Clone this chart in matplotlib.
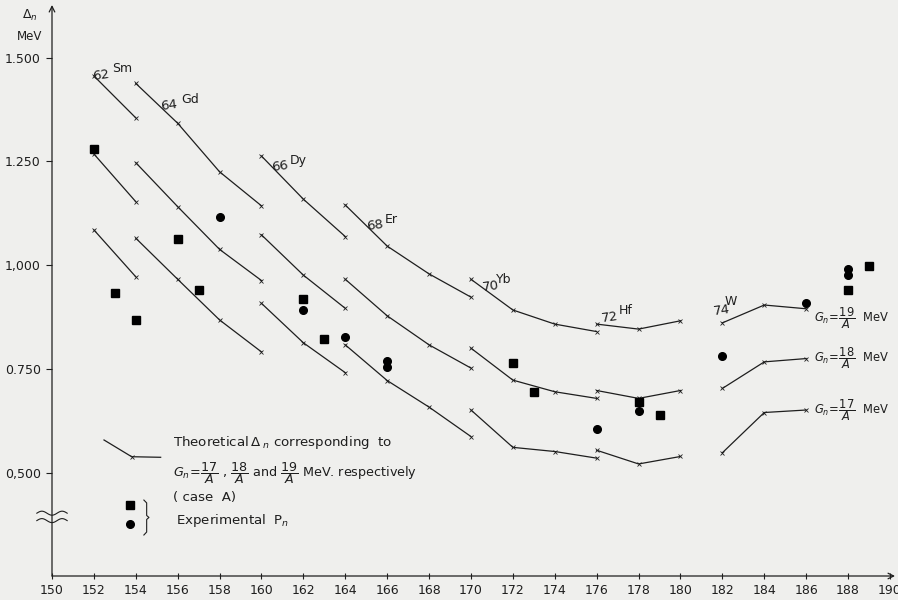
import numpy as np
import matplotlib
matplotlib.use("Agg")
import matplotlib.pyplot as plt

# ── DATA ─────────────────────────────────────────────────────────────────────
# theoretical Delta_n (MeV) for G_n = 17/A, 18/A, 19/A, one block per element
SM_A = [152, 154]
SM_G17 = [1.085, 0.972]
SM_G18 = [1.268, 1.153]
SM_G19 = [1.456, 1.355]

GD_A = [154, 156, 158, 160]
GD_G17 = [1.065, 0.966, 0.868, 0.791]
GD_G18 = [1.247, 1.141, 1.038, 0.963]
GD_G19 = [1.438, 1.342, 1.225, 1.143]

DY_A = [160, 162, 164]
DY_G17 = [0.908, 0.813, 0.741]
DY_G18 = [1.073, 0.976, 0.896]
DY_G19 = [1.263, 1.159, 1.069]

ER_A = [164, 166, 168, 170]
ER_G17 = [0.808, 0.722, 0.658, 0.587]
ER_G18 = [0.966, 0.878, 0.808, 0.752]
ER_G19 = [1.145, 1.046, 0.979, 0.923]

YB_A = [170, 172, 174, 176]
YB_G17 = [0.651, 0.561, 0.551, 0.535]
YB_G18 = [0.800, 0.723, 0.695, 0.679]
YB_G19 = [0.966, 0.892, 0.858, 0.840]

HF_A = [176, 178, 180]
HF_G17 = [0.554, 0.521, 0.539]
HF_G18 = [0.698, 0.679, 0.698]
HF_G19 = [0.858, 0.846, 0.866]

W_A = [182, 184, 186]
W_G17 = [0.548, 0.645, 0.651]
W_G18 = [0.703, 0.767, 0.775]
W_G19 = [0.861, 0.904, 0.895]

# experimental P_n
EXP_SQ_A = [152, 153, 154, 156, 157, 162, 163, 172, 173, 178, 179, 188, 189]
EXP_SQ = [1.280, 0.934, 0.868, 1.062, 0.940, 0.918, 0.821, 0.764, 0.695,
          0.670, 0.639, 0.940, 0.999]
EXP_CI_A = [158, 162, 164, 166, 166, 176, 178, 182, 186, 188, 188]
EXP_CI = [1.115, 0.891, 0.827, 0.769, 0.754, 0.605, 0.649, 0.781, 0.910,
          0.990, 0.976]

Y_TICKS = [0.5, 0.75, 1.0, 1.25, 1.5]
Y_TICK_LABELS = ["0,500", "0.750", "1,000", "1.250", "1.500"]
X_TICKS = list(range(150, 191, 2))

ELEMENTS = ["62", "64", "66", "68", "70", "72", "74"]
SYMBOLS = ["Sm", "Gd", "Dy", "Er", "Yb", "Hf", "W"]
G_LABELS = ["19", "18", "17"]

# ── STYLE ────────────────────────────────────────────────────────────────────
BG = "#efefed"
INK = "#1e1e1e"

plt.rcParams.update({
    "font.family": ["DejaVu Sans"],
    "mathtext.fontset": "dejavusans",
    "text.color": INK,
})

fig = plt.figure(figsize=(8.98, 6.0), dpi=100, facecolor=BG)
ax = fig.add_axes([52 / 898, 24 / 600, 843 / 898, 571 / 600])
ax.set_facecolor(BG)
ax.set_xlim(150, 190.24)
ax.set_ylim(0.251, 1.627)

for s in ["top", "right", "left", "bottom"]:
    ax.spines[s].set_visible(False)

# axes drawn as arrows
arrow = dict(arrowstyle="->", lw=0.9, color=INK, shrinkA=0, shrinkB=0)
ax.annotate("", xy=(0, 1), xytext=(0, 0), xycoords="axes fraction",
            arrowprops=arrow)
ax.annotate("", xy=(1, 0), xytext=(0, 0), xycoords="axes fraction",
            arrowprops=arrow)

ax.set_xticks(X_TICKS)
ax.set_xticklabels([str(v) for v in X_TICKS], fontsize=9)
ax.set_yticks(Y_TICKS)
ax.set_yticklabels(Y_TICK_LABELS, fontsize=9)
ax.tick_params(axis="x", direction="inout", length=5, width=0.8, pad=3,
               colors=INK)
ax.tick_params(axis="y", direction="out", length=4, width=0.8, pad=4,
               colors=INK)

# y-axis unit label
ax.text(-0.017, 0.982, r"$\Delta_n$", transform=ax.transAxes, ha="right",
        va="center", fontsize=9)
ax.text(-0.012, 0.944, "MeV", transform=ax.transAxes, ha="right",
        va="center", fontsize=8.5)

# axis break
t = np.linspace(-0.018, 0.018, 60)
for yb in (0.110, 0.097):
    ax.plot(t, yb + 0.0035 * np.sin((t + 0.018) / 0.036 * 3 * np.pi),
            transform=ax.transAxes, color=INK, lw=0.8, clip_on=False)

# ── THEORETICAL CURVES ───────────────────────────────────────────────────────
groups = [
    (SM_A, SM_G17, SM_G18, SM_G19),
    (GD_A, GD_G17, GD_G18, GD_G19),
    (DY_A, DY_G17, DY_G18, DY_G19),
    (ER_A, ER_G17, ER_G18, ER_G19),
    (YB_A, YB_G17, YB_G18, YB_G19),
    (HF_A, HF_G17, HF_G18, HF_G19),
    (W_A, W_G17, W_G18, W_G19),
]
for a, g17, g18, g19 in groups:
    for g in (g17, g18, g19):
        ax.plot(a, g, color=INK, lw=0.9, marker="x", ms=2.5, mew=0.6)

# element labels (number, then raised symbol)
num_pos = [(152.34, 1.458), (155.58, 1.384), (160.88, 1.238), (165.42, 1.097),
           (170.95, 0.948), (176.63, 0.874), (181.97, 0.892)]
sym_pos = [(153.33, 1.475), (156.59, 1.400), (161.74, 1.252), (166.17, 1.109),
           (171.58, 0.966), (177.40, 0.890), (182.41, 0.912)]
for n, s, (xn, yn), (xs, ys) in zip(ELEMENTS, SYMBOLS, num_pos, sym_pos):
    ax.text(xn, yn, n, ha="center", va="center", fontsize=9.5, rotation=8)
    ax.text(xs, ys, s, ha="center", va="center", fontsize=9)

# G_n labels on the right
for num, yv in zip(G_LABELS, [0.873, 0.776, 0.651]):
    ax.text(186.35, yv, r"$G_n\!=\!\dfrac{%s}{A}$  MeV" % num, ha="left",
            va="center", fontsize=8.3)

# ── EXPERIMENTAL POINTS ──────────────────────────────────────────────────────
ax.plot(EXP_SQ_A, EXP_SQ, ls="none", marker="s", ms=5.5, color="black")
ax.plot(EXP_CI_A, EXP_CI, ls="none", marker="o", ms=5.5, color="black")

# ── KEY ──────────────────────────────────────────────────────────────────────
ax.plot([0.0617, 0.0945, 0.1289], [0.2382, 0.2089, 0.2079],
        transform=ax.transAxes, color=INK, lw=0.9, marker="x", ms=2.5,
        mew=0.6, markevery=[1])
KEY_FS = 9.6
ax.text(0.1439, 0.234, r"Theoretical$\,\Delta_{\ n}$ corresponding  to",
        transform=ax.transAxes, ha="left", va="center", fontsize=KEY_FS)
ax.text(0.1439, 0.180,
        r"$G_n\!=\!\dfrac{17}{A}$ , $\dfrac{18}{A}$ and $\dfrac{19}{A}$ MeV. respectively",
        transform=ax.transAxes, ha="left", va="center", fontsize=9.2)
ax.text(0.1439, 0.137, "( case  A)", transform=ax.transAxes, ha="left",
        va="center", fontsize=KEY_FS)
ax.text(0.1475, 0.098, r"Experimental  P$_n$", transform=ax.transAxes,
        ha="left", va="center", fontsize=KEY_FS)
ax.plot([0.0925], [0.1243], transform=ax.transAxes, marker="s", ms=5.5,
        color="black")
ax.plot([0.0925], [0.0905], transform=ax.transAxes, marker="o", ms=5.5,
        color="black")
bx = [0.1090, 0.1123, 0.1123, 0.1150, 0.1123, 0.1123, 0.1090]
by = [0.133, 0.128, 0.106, 0.1025, 0.099, 0.077, 0.0718]
ax.plot(bx, by, transform=ax.transAxes, color=INK, lw=0.8)

fig.savefig("out.png", dpi=100, facecolor=BG)
